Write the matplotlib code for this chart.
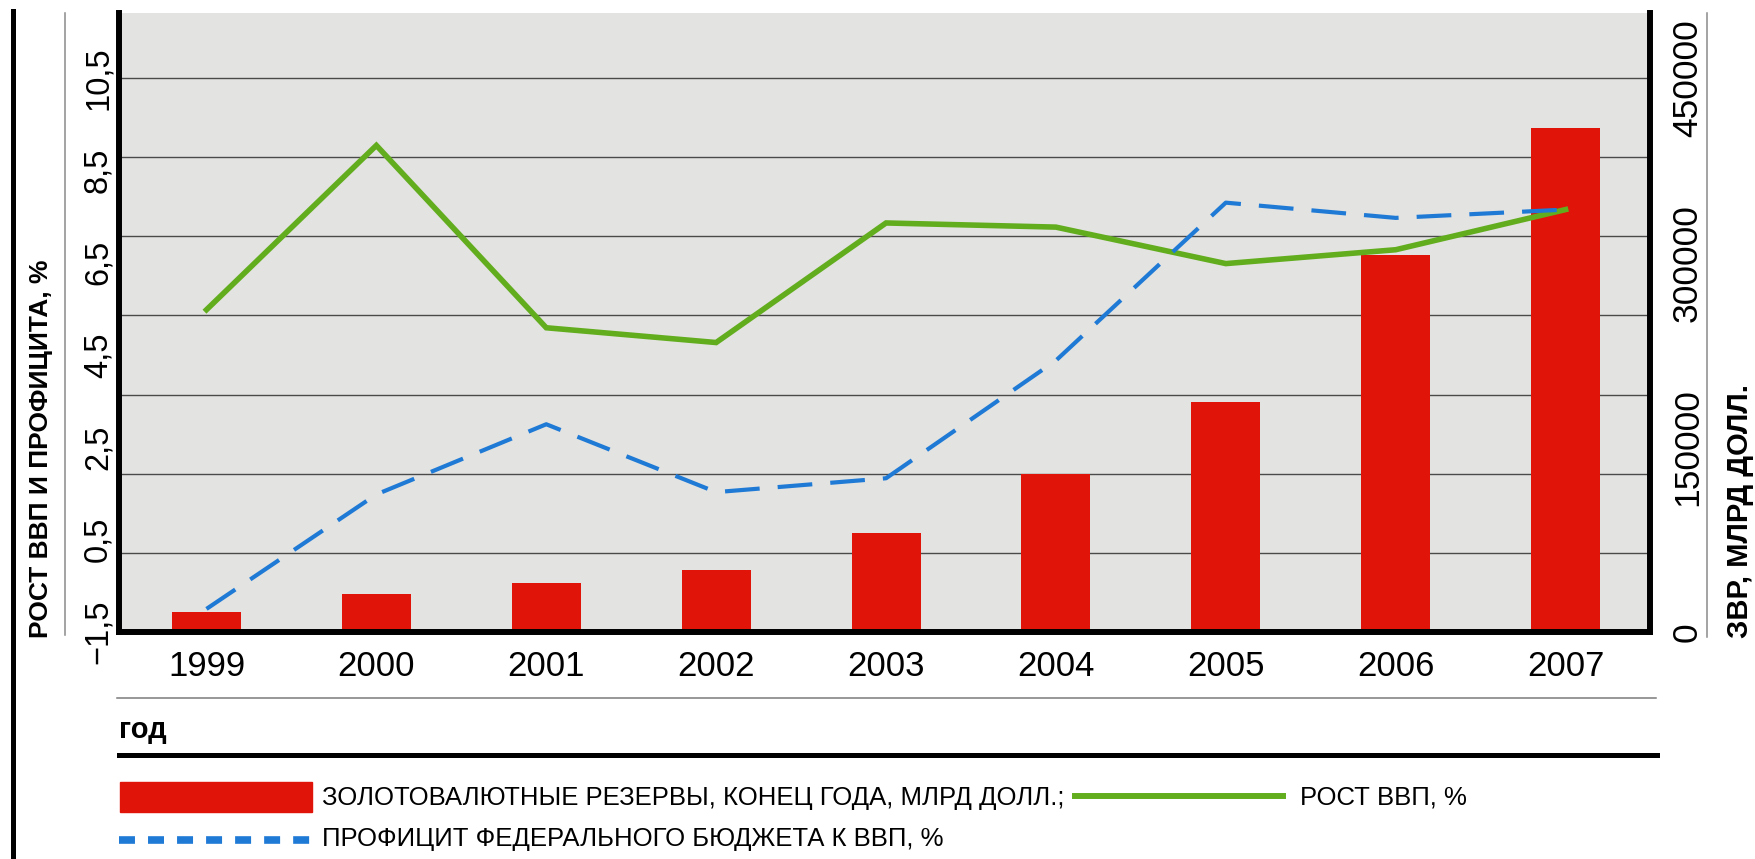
import matplotlib
matplotlib.use('Agg')
import matplotlib.pyplot as plt
import numpy as np
from matplotlib.lines import Line2D
from matplotlib.patches import Rectangle

plt.rcParams['lines.scale_dashes'] = False

# ---------------- data ----------------
years = ['1999', '2000', '2001', '2002', '2003', '2004', '2005', '2006', '2007']
reserves = [16200, 30800, 39700, 50300, 80300, 128000, 186500, 306500, 409500]
gdp_growth = [5.48, 9.04, 5.09, 4.77, 7.36, 7.27, 6.48, 6.78, 7.65]
budget_surplus = [-1.0, 1.48, 3.0, 1.53, 1.83, 4.38, 7.80, 7.47, 7.65]
left_ticks = [-1.5, 0.5, 2.5, 4.5, 6.5, 8.5, 10.5]
left_tick_labels = ['\u22121,5', '0,5', '2,5', '4,5', '6,5', '8,5', '10,5']
right_ticks = [0, 150000, 300000, 450000]
right_tick_labels = ['0', '150000', '300000', '450000']

# ---------------- layout ----------------
W, H = 1756, 859
fig = plt.figure(figsize=(W / 100, H / 100), dpi=100)
fig.patch.set_facecolor('white')
SANS = ['Liberation Sans', 'DejaVu Sans']


def fx(px):
    return px / W


def fy(py):
    return 1 - py / H


L, R, T, B = 119.5, 1650, 13, 632
ax = fig.add_axes([fx(L), fy(B), (R - L) / W, (B - T) / H])
ax.set_facecolor('#e3e3e1')
axl = ax.twinx()

x = np.arange(len(years))
RED = '#e1140a'
GREEN = '#62ad1e'
BLUE = '#1f7ad6'

# bars on the right-hand (reserves) scale
for k in range(1, 8):
    ax.axhline(450000 * k / 7, color='#4a4a4a', lw=1.0, zorder=1)
ax.bar(x, reserves, width=0.406, color=RED, zorder=2)
ax.set_xlim(-0.512, 8.497)
ax.set_ylim(0, 502800)
ax.yaxis.set_ticks_position('right')
ax.set_yticks(right_ticks)
ax.set_yticklabels(right_tick_labels, rotation=90, va='center', ha='left',
                   fontsize=25.5, family=SANS)
ax.set_xticks(x)
ax.set_xticklabels(years, fontsize=25, family=SANS)
ax.tick_params(axis='both', length=0)
ax.tick_params(axis='x', pad=13)
ax.tick_params(axis='y', pad=15)

# lines on the left-hand (percent) scale
axl.yaxis.set_ticks_position('left')
axl.set_ylim(-1.5, 11.908)
axl.plot(x, gdp_growth, color=GREEN, lw=4.0, solid_joinstyle='miter', zorder=3)
axl.plot(x, budget_surplus, color=BLUE, lw=3.0, linestyle=(0, (25, 13)),
         dash_capstyle='butt', zorder=4)
axl.set_yticks(left_ticks)
axl.set_yticklabels(left_tick_labels, rotation=90, va='center', ha='right',
                    fontsize=23.5, family=SANS)
axl.tick_params(axis='y', length=0, pad=4.3)

for a in (ax, axl):
    a.spines['top'].set_visible(False)
for s in ('left', 'right', 'bottom'):
    ax.spines[s].set_linewidth(4.3)
    ax.spines[s].set_color('black')
    axl.spines[s].set_visible(False)

# ---------------- axis titles ----------------
fig.text(fx(41), fy(638), 'РОСТ ВВП И ПРОФИЦИТА, %', rotation=90, ha='center',
         va='bottom', fontsize=19, fontweight='bold', family=SANS)
fig.text(fx(1740), fy(638), 'ЗВР, МЛРД ДОЛЛ.', rotation=90, ha='center',
         va='bottom', fontsize=21, fontweight='bold', family=SANS)
fig.text(fx(119), fy(730), 'год', ha='left', va='center', fontsize=21,
         fontweight='bold', family=SANS)

# ---------------- decorative rules ----------------
def fline(x0, y0, x1, y1, **kw):
    fig.add_artist(Line2D([fx(x0), fx(x1)], [fy(y0), fy(y1)],
                          transform=fig.transFigure, **kw))

fline(13, 11, 13, 859, color='black', lw=3.6)
fline(65, 13, 65, 635, color='#8a8a8a', lw=1.1)
fline(1707, 13, 1707, 637, color='#8a8a8a', lw=1.1)
fline(117, 698, 1656, 698, color='#7a7a7a', lw=1.1)
fline(119, 755, 1657, 755, color='black', lw=3.6)

# ---------------- legend ----------------
fig.add_artist(Rectangle((fx(120), fy(812)), (312 - 120) / W, 30 / H,
                         transform=fig.transFigure, color=RED))
fig.text(fx(322), fy(798), 'ЗОЛОТОВАЛЮТНЫЕ РЕЗЕРВЫ, КОНЕЦ ГОДА, МЛРД ДОЛЛ.;',
         ha='left', va='center', fontsize=18.5, family=SANS)
fline(1075, 796, 1283, 796, color=GREEN, lw=4.3)
fig.text(fx(1300), fy(798), 'РОСТ ВВП, %', ha='left', va='center', fontsize=18.5,
         family=SANS)
fline(119, 840, 312, 840, color=BLUE, lw=5.5, linestyle=(0, (11.5, 9.4)),
      dash_capstyle='butt')
fig.text(fx(322), fy(839), 'ПРОФИЦИТ ФЕДЕРАЛЬНОГО БЮДЖЕТА К ВВП, %',
         ha='left', va='center', fontsize=18.5, family=SANS)

fig.savefig('out.png', dpi=100)
